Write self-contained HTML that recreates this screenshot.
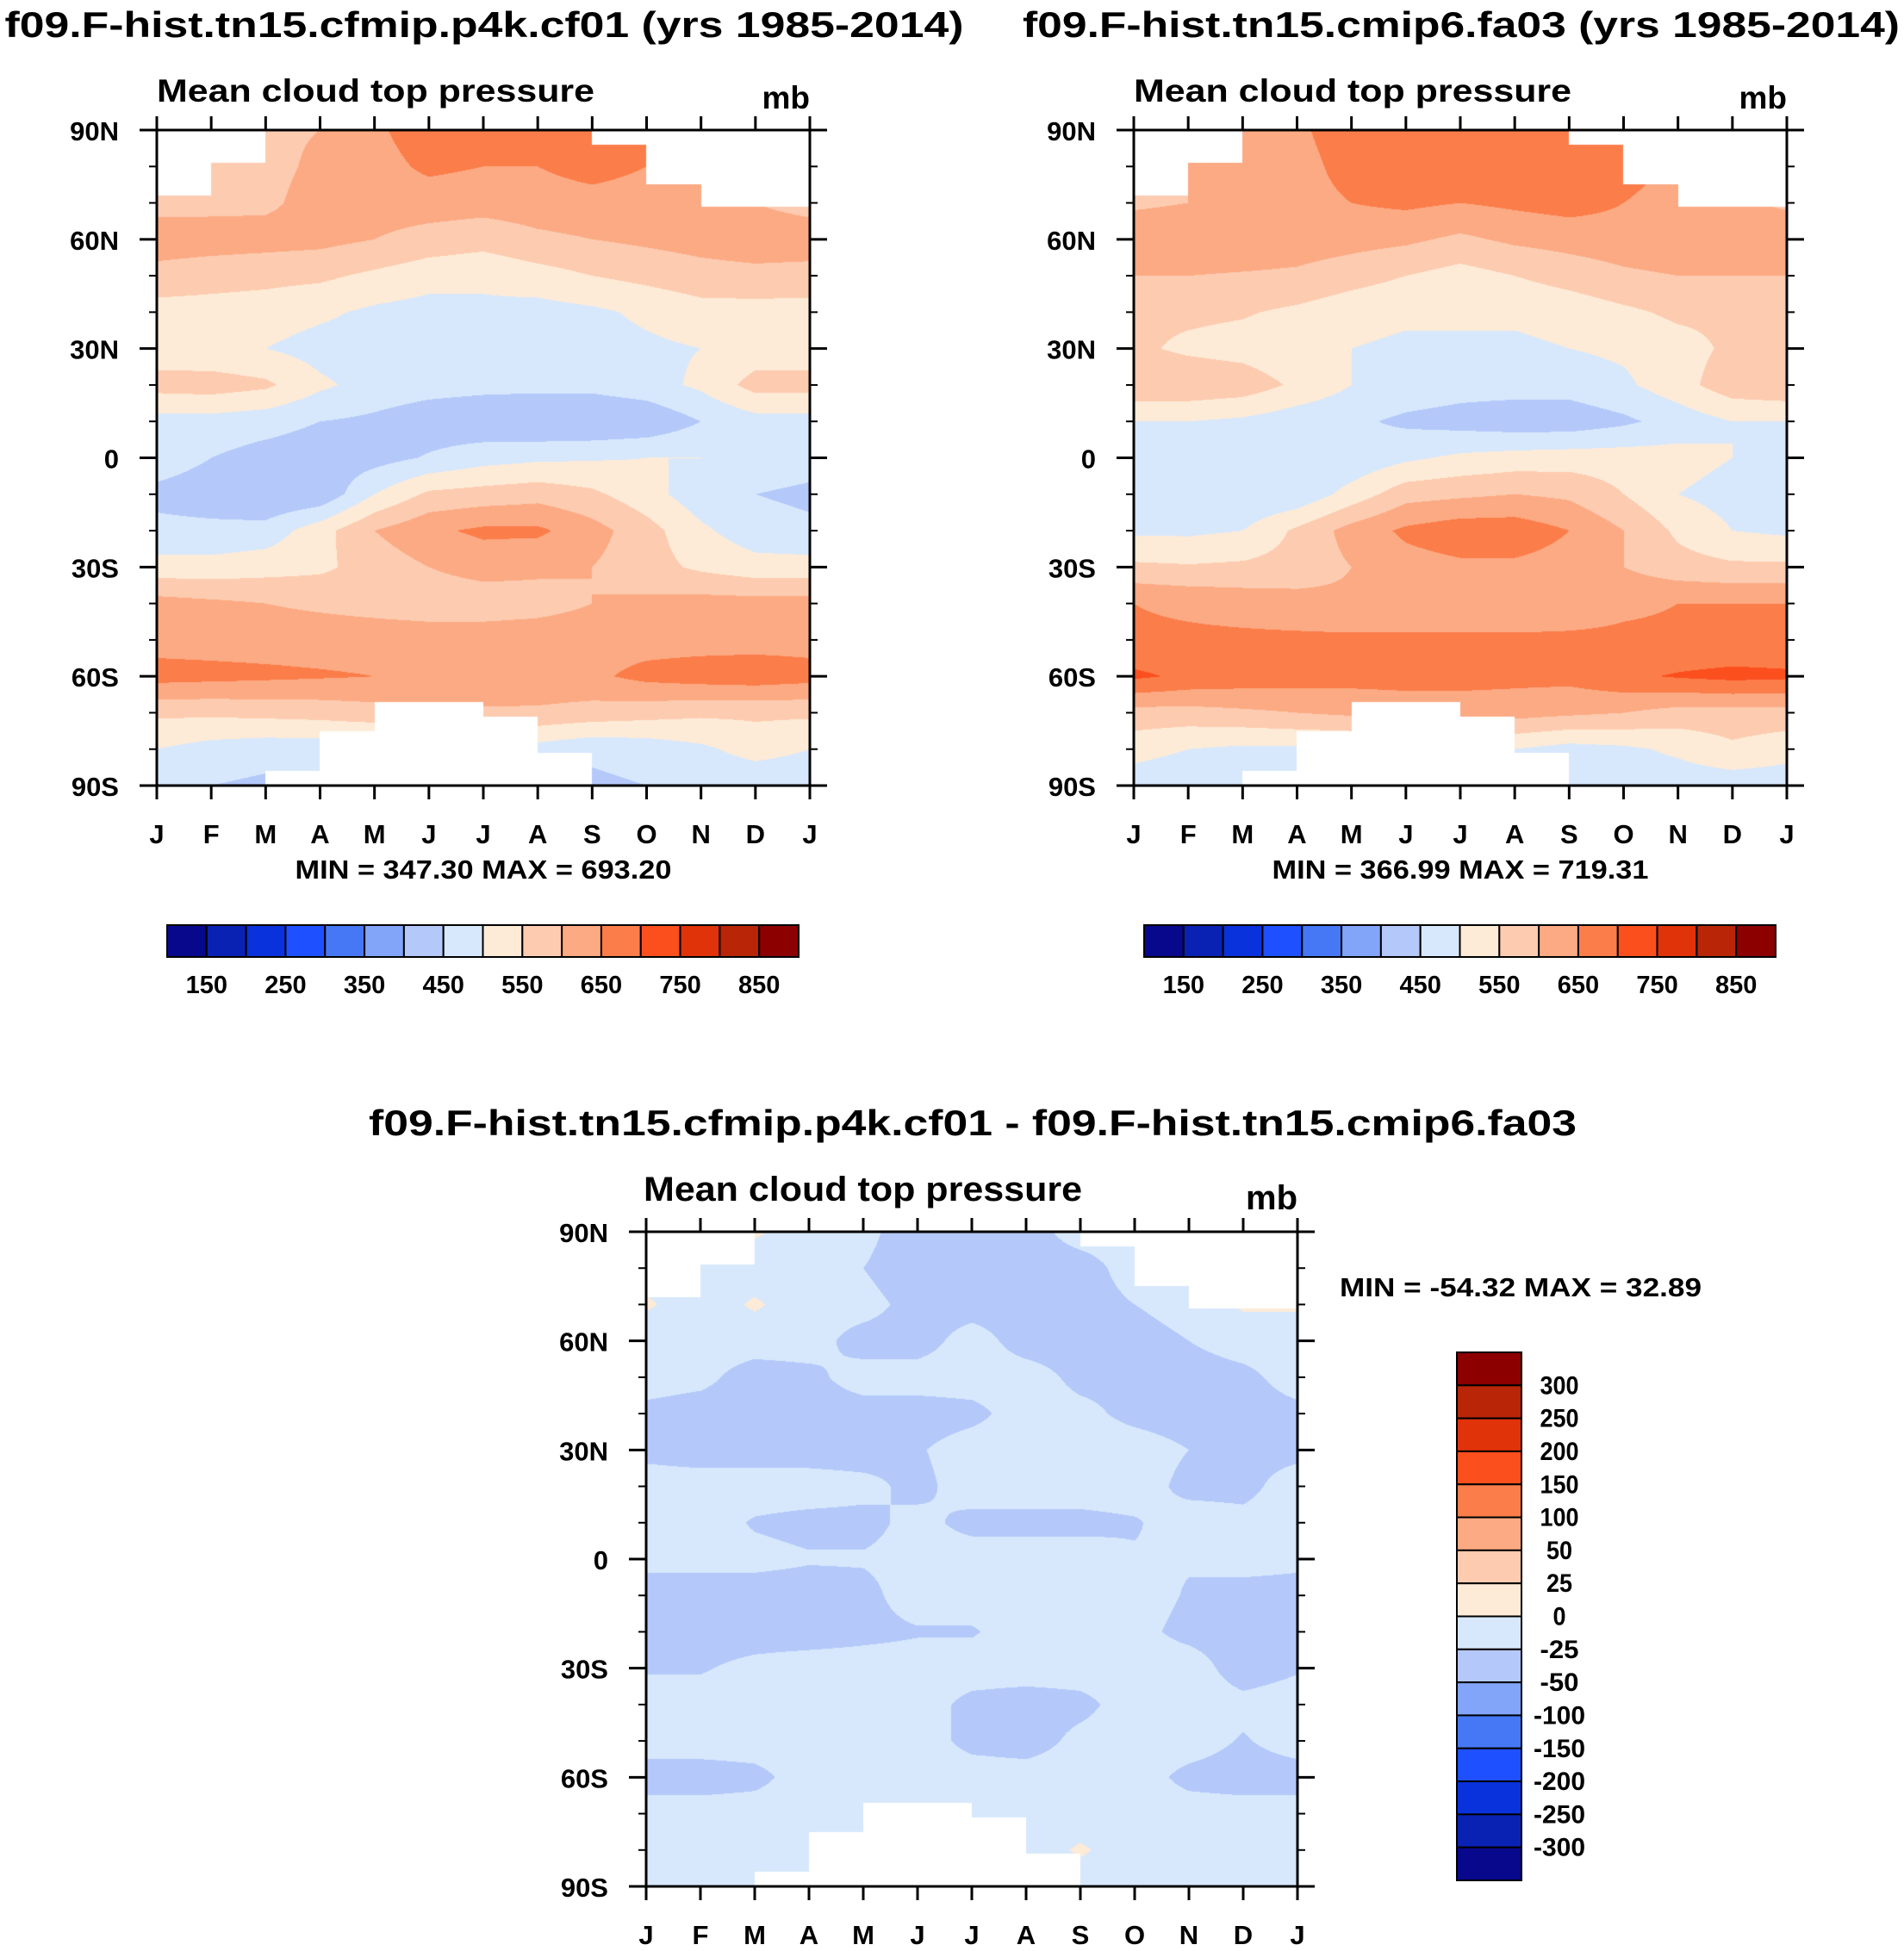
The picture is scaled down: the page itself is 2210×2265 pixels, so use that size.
<!DOCTYPE html>
<html><head><meta charset="utf-8">
<style>
html,body{margin:0;padding:0;background:#fff;}
#wrap{position:relative;width:2210px;height:2265px;overflow:hidden;background:#fff;}
canvas{position:absolute;}
svg{position:absolute;left:0;top:0;}
text{font-family:"Liberation Sans",Arial,sans-serif;font-weight:bold;fill:#000;}
</style></head>
<body>
<div id="wrap">
<canvas id="c1"></canvas>
<canvas id="c2"></canvas>
<canvas id="c3"></canvas>
<svg id="svg" width="2210" height="2265"></svg>
</div>
<script>
const months=['J','F','M','A','M','J','J','A','S','O','N','D','J'];
const latLabels=['90N','60N','30N','0','30S','60S','90S'];
const absLevels=[150,200,250,300,350,400,450,500,550,600,650,700,750,800,850];
const absTickLabels=['150','250','350','450','550','650','750','850'];
const diffLevels=[-300,-250,-200,-150,-100,-50,-25,0,25,50,100,150,200,250,300];
const diffTickLabels=['300','250','200','150','100','50','25','0','-25','-50','-100','-150','-200','-250','-300'];
const colors=['#08088c','#0a22b4','#0a32dc','#1e50ff','#4678f5','#82a5fa','#b4c8fa','#d7e8fc','#fdebd7','#fdcbb0','#fcaa83','#fb7d4a','#fc4f1e','#e0330a','#b92507','#8c0000'];
const northMask=[72,81,90,90,90,90,90,90,86,75,69,69];
const southMask=[-90,-90,-86,-75,-67,-67,-71,-81,-90,-90,-90,-90];
const p1Values=[
[600,600,590,600,640,680,670,680,690,650,620,620,600],
[590,590,585,610,630,660,650,650,670,650,620,610,590],
[580,585,590,620,625,625,620,625,630,625,620,600,580],
[630,625,620,615,600,580,570,590,600,610,620,630,630],
[580,570,565,560,540,520,510,530,550,565,580,585,580],
[530,530,525,510,490,480,490,480,490,510,530,530,530],
[520,510,500,480,470,470,480,470,480,490,500,520,520],
[570,575,560,510,480,470,465,465,465,480,510,570,570],
[480,480,470,450,440,420,410,400,400,410,450,480,480],
[470,450,430,420,430,455,480,490,495,500,500,480,470],
[440,430,400,410,500,560,570,580,560,520,470,450,440],
[460,460,470,530,600,640,660,660,620,570,510,470,460],
[520,520,530,540,570,600,620,610,600,570,540,520,520],
[620,610,600,590,580,570,570,580,600,610,620,620,620],
[630,630,630,630,630,630,630,630,630,630,630,630,630],
[670,665,660,655,650,645,650,640,640,665,675,680,670],
[560,560,565,570,580,590,590,590,580,570,560,560,560],
[500,480,470,470,470,470,480,480,460,470,490,520,500],
[460,450,440,440,440,440,440,440,440,450,460,460,460]];
const p2Values=[
[600,610,620,640,680,690,690,690,690,680,640,620,600],
[600,600,610,630,670,680,680,680,690,670,640,620,600],
[590,600,610,630,650,660,650,660,670,650,630,610,590],
[640,640,640,630,620,610,590,610,620,630,640,640,640],
[600,600,595,590,570,550,530,550,570,590,600,600,600],
[560,560,555,540,520,510,510,510,520,540,560,560,560],
[560,540,530,510,500,490,490,490,500,510,530,560,560],
[590,590,580,540,500,480,470,470,470,490,530,580,590],
[500,500,490,470,460,440,430,420,420,440,470,500,500],
[490,470,450,450,460,490,510,520,525,525,520,500,490],
[470,460,450,460,520,580,590,600,590,550,500,480,470],
[490,490,500,560,620,660,680,680,650,600,540,500,490],
[560,555,560,570,600,630,640,640,630,600,570,560,560],
[650,640,630,620,610,610,610,610,620,640,650,650,650],
[660,660,660,660,660,660,660,660,660,660,660,660,660],
[710,690,680,675,670,670,670,665,665,690,705,715,710],
[580,580,590,600,610,620,620,620,610,600,580,580,580],
[520,500,490,490,490,490,500,500,480,490,510,540,520],
[470,460,450,450,450,450,450,450,450,460,470,470,470]];
const diffValues=[
[-15,-20,5,-18,-20,-35,-30,-30,-20,-20,-20,-20,-15],
[-15,-15,-20,-20,-25,-35,-30,-30,-30,-20,-20,-20,-15],
[5,-20,5,-20,-20,-30,-30,-30,-30,-25,-20,5,5],
[-20,-20,-20,-20,-30,-30,-20,-30,-30,-30,-25,-20,-20],
[-20,-22,-30,-28,-20,-20,-20,-20,-28,-28,-30,-28,-20],
[-28,-30,-30,-30,-30,-30,-28,-20,-22,-28,-30,-30,-28],
[-28,-30,-30,-30,-30,-26,-20,-20,-20,-20,-25,-28,-28],
[-20,-20,-20,-20,-22,-28,-20,-20,-20,-20,-28,-28,-20],
[-20,-20,-26,-28,-28,-22,-28,-28,-28,-26,-20,-22,-20],
[-22,-22,-22,-24,-24,-22,-20,-20,-20,-24,-24,-20,-22],
[-30,-30,-30,-30,-28,-20,-20,-20,-20,-20,-26,-30,-30],
[-28,-30,-30,-30,-28,-26,-26,-20,-20,-22,-28,-30,-28],
[-26,-26,-22,-20,-20,-20,-20,-20,-20,-20,-20,-30,-26],
[-20,-20,-20,-20,-20,-20,-28,-30,-28,-20,-20,-22,-20],
[-20,-20,-20,-20,-20,-20,-28,-30,-22,-20,-20,-26,-20],
[-30,-30,-28,-20,-20,-20,-20,-20,-20,-20,-28,-30,-30],
[-20,-20,-20,-20,-20,-20,-20,-20,-20,-20,-20,-20,-20],
[-20,-20,-20,-20,-20,-20,-20,-20,5,-20,-20,-20,-20],
[-25,-20,-20,-20,-20,-20,-20,-20,-20,-20,-25,-25,-25]];

const NS='http://www.w3.org/2000/svg';
const svg=document.getElementById('svg');
function mk(tag,attrs,name){
  const el=document.createElementNS(NS,tag);
  for(const k in attrs) el.setAttribute(k,attrs[k]);
  
  
  svg.appendChild(el);return el;
}
function txt(x,y,s,size,anchor,name,len){
  const a={x:x,y:y,'font-size':size,'text-anchor':anchor};
  if(len){a.textLength=len;a.lengthAdjust='spacingAndGlyphs';}
  const t=mk('text',a,name);t.textContent=s;return t;
}

function drawPanel(cv,values,levels,P){
  const w=P.x1-P.x0,h=P.y1-P.y0;
  cv.width=w;cv.height=h;cv.style.left=P.x0+'px';cv.style.top=P.y0+'px';
  const ctx=cv.getContext('2d');
  const img=ctx.createImageData(w,h);
  const rgb=colors.map(c=>[parseInt(c.substr(1,2),16),parseInt(c.substr(3,2),16),parseInt(c.substr(5,2),16)]);
  for(let py=0;py<h;py++){
    const lat=90-(py+0.5)/h*180;
    const r=(90-lat)/10;const r0=Math.min(17,Math.floor(r));const fr=r-r0;
    for(let px=0;px<w;px++){
      const m=(px+0.5)/w*12;const c0=Math.min(11,Math.floor(m));const fc=m-c0;
      let col;
      if(lat>northMask[c0]||lat<southMask[c0]){col=[255,255,255];}
      else{
        const v=(values[r0][c0]*(1-fc)+values[r0][c0+1]*fc)*(1-fr)+(values[r0+1][c0]*(1-fc)+values[r0+1][c0+1]*fc)*fr;
        let k=0;while(k<levels.length&&v>=levels[k])k++;col=rgb[k];
      }
      const i=(py*w+px)*4;img.data[i]=col[0];img.data[i+1]=col[1];img.data[i+2]=col[2];img.data[i+3]=255;
    }
  }
  ctx.putImageData(img,0,0);
  mk('rect',{x:P.x0,y:P.y0,width:w,height:h,fill:'none',stroke:'#000','stroke-width':3},'plot-frame');
  const xs=i=>P.x0+i/12*w;
  const ys=lat=>P.y0+(90-lat)/180*h;
  for(let i=0;i<=12;i++){
    mk('line',{x1:xs(i),x2:xs(i),y1:P.y0,y2:P.y0-16,stroke:'#000','stroke-width':3},'x-tick-top');
    mk('line',{x1:xs(i),x2:xs(i),y1:P.y1,y2:P.y1+16,stroke:'#000','stroke-width':3},'x-tick-bottom');
    txt(xs(i),P.y1+67,months[i],31,'middle','x-tick-label');
  }
  for(let lat=90;lat>=-90;lat-=10){
    const major=(lat%30===0);const L=major?20:9;
    mk('line',{x1:P.x0,x2:P.x0-L,y1:ys(lat),y2:ys(lat),stroke:'#000','stroke-width':major?3:2},'y-tick-left');
    mk('line',{x1:P.x1,x2:P.x1+L,y1:ys(lat),y2:ys(lat),stroke:'#000','stroke-width':major?3:2},'y-tick-right');
  }
  for(let i=0;i<7;i++) txt(P.x0-44,ys(90-i*30)+12,latLabels[i],31,'end','y-tick-label');
}

const P1={x0:182,x1:940,y0:151,y1:912};
const P2={x0:1316,x1:2074,y0:151,y1:912};
const P3={x0:750,x1:1506,y0:1430,y1:2190};
drawPanel(document.getElementById('c1'),p1Values,absLevels,P1);
drawPanel(document.getElementById('c2'),p2Values,absLevels,P2);
drawPanel(document.getElementById('c3'),diffValues,diffLevels,P3);

txt(562,43,'f09.F-hist.tn15.cfmip.p4k.cf01 (yrs 1985-2014)',42,'middle','panel-title-cf01',1113);
txt(1696,43,'f09.F-hist.tn15.cmip6.fa03 (yrs 1985-2014)',42,'middle','panel-title-fa03',1018);
txt(1129,1318,'f09.F-hist.tn15.cfmip.p4k.cf01 - f09.F-hist.tn15.cmip6.fa03',42,'middle','panel-title-difference',1402);
[[P1,'cf01'],[P2,'fa03']].forEach(([P,n])=>{
  txt(P.x0,118,'Mean cloud top pressure',37,'start','subtitle-'+n,508);
  txt(P.x1,126,'mb',37,'end','units-'+n);
  txt((P.x0+P.x1)/2,1020,n==='cf01'?'MIN = 347.30 MAX = 693.20':'MIN = 366.99 MAX = 719.31',31,'middle','minmax-'+n,437);
  const cx0=P.x0+12,cx1=P.x0+745,cy0=1074,cy1=1111;const bw=(cx1-cx0)/16;
  for(let k=0;k<16;k++) mk('rect',{x:cx0+k*bw,y:cy0,width:bw,height:cy1-cy0,fill:colors[k],stroke:'#000','stroke-width':2},'colorbar-box');
  for(let j=0;j<absTickLabels.length;j++) txt(cx0+(2*j+1)*bw,1153,absTickLabels[j],29,'middle','colorbar-label');
});
txt(747,1394,'Mean cloud top pressure',40,'start','subtitle-difference',509);
txt(1506,1404,'mb',40,'end','units-difference');
txt(1555,1505,'MIN = -54.32 MAX =  32.89',31,'start','minmax-difference',420);
{
  const x0=1691,x1=1766,y0=1570,y1=2183;const bh=(y1-y0)/16;
  for(let k=0;k<16;k++) mk('rect',{x:x0,y:y0+k*bh,width:x1-x0,height:bh,fill:colors[15-k],stroke:'#000','stroke-width':2},'colorbar-box-difference');
  for(let j=0;j<diffTickLabels.length;j++){
    const s=diffTickLabels[j];
    txt(1810,y0+(j+1)*bh+10,s,30,'middle','colorbar-label-difference',s.length*15);
  }
}
</script>
</body></html>
